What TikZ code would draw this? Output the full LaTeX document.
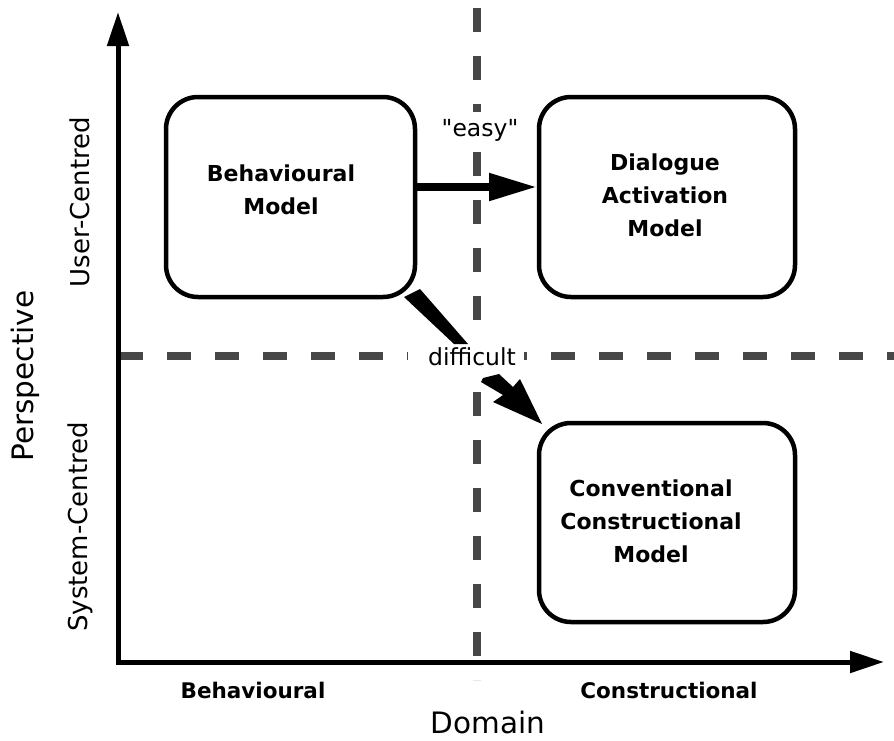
\documentclass[tikz,border=0pt]{standalone}
\usepackage{fontspec}
\setmainfont{DejaVu Sans}
\newfontfamily\straightquotes{DejaVu Sans}[Ligatures=TeXOff]
\usetikzlibrary{arrows.meta}
\begin{document}
\begin{tikzpicture}[x=1pt,y=-1pt,
  axis/.style={line width=5pt,-{Triangle[length=34pt,width=21pt]}},
  divider/.style={line width=7.5pt,color=black!72,dash pattern=on 24pt off 24pt},
  modelbox/.style={draw,line width=4.5pt,rounded corners=32pt},
  boxtext/.style={font=\fontsize{22}{33}\selectfont\bfseries,align=center},
  axislabel/.style={font=\fontsize{21.5}{24}\selectfont\bfseries},
  sidelabel/.style={font=\fontsize{26}{30}\selectfont,rotate=90},
  titlelabel/.style={font=\fontsize{29.5}{34}\selectfont},
  flowlabel/.style={font=\fontsize{23.5}{28}\selectfont}
]
\useasboundingbox (0,0) rectangle (894,740);

% quadrant dividers
\coordinate (hdL) at (119,356);
\coordinate (hdR) at (894,356);
\coordinate (vdT) at (477,8);
\coordinate (vdB) at (477,680);
\draw[divider] (hdL) -- (hdR);
\draw[divider] (vdT) -- (vdB);

% axes
\coordinate (origin) at (118,662);
\coordinate (ytip) at (118,12);
\coordinate (xtip) at (884,662);
\draw[axis] ([yshift=2.5pt]origin) -- (ytip);
\draw[axis] ([xshift=-2.5pt]origin) -- (xtip);

% models
\draw[modelbox,fill=white] (166,97) rectangle (415,297);
\draw[modelbox,fill=white] (539,97) rectangle (795,297);
\draw[modelbox,fill=white] (539,423) rectangle (795,622);
\node[boxtext] (beh) at (281,190) {Behavioural\\Model};
\node[boxtext] (dia) at (665,195) {Dialogue\\Activation\\Model};
\node[boxtext] (con) at (651,521) {Conventional\\Constructional\\Model};

\coordinate (behE) at (417,187);
\coordinate (diaW) at (537,187);
\coordinate (conNW) at (542,424);

% easy transition
\fill[white] (438,112) rectangle (524,150);
\node[flowlabel,font=\fontsize{23.5}{28}\straightquotes] (easy) at (480,130) {"easy"};
\draw[line width=8pt,-{Triangle[length=48pt,width=26pt]}] (behE) -- (diaW);

% difficult transition: tapered stroke, then a kinked arrow
\fill[white] (408,340) rectangle (524,376);
\node[flowlabel] (diff) at (472,357) {difficult};
\fill (404,297) -- (420,289) -- (468,344) -- (454,344) -- cycle;
\fill (483,378) -- (499,374) -- (513,387) -- (520,379) -- (conNW)
      -- (493,402) -- (503,395) -- (481,382) -- cycle;

% axis captions
\node[sidelabel] (uc) at (80,202) {User-Centred};
\node[sidelabel] (sc) at (80,527) {System-Centred};
\node[titlelabel,rotate=90] (persp) at (25,376) {Perspective};
\node[axislabel] (xb) at (253,690) {Behavioural};
\node[axislabel] (xc) at (669,690) {Constructional};
\node[titlelabel] (dom) at (488,722) {Domain};
\end{tikzpicture}
\end{document}
